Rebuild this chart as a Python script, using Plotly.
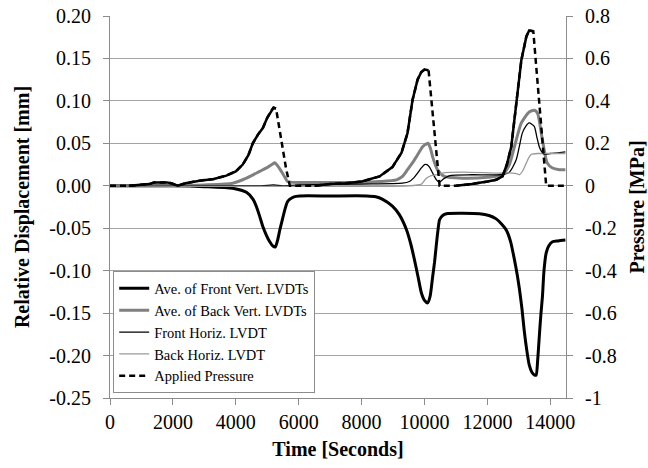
import numpy as np
import plotly.graph_objects as go

# ---- Relative displacement data (mm) ----
t_front_vert = [0, 1000, 2000, 3000, 3900, 4350, 4550, 4660, 4760, 4860, 4970, 5080, 5180, 5260,
                5330, 5400, 5480, 5560, 5640, 5710, 5850, 6030, 7000, 8160, 8450, 8670, 8980, 9200,
                9430, 9560, 9680, 9800, 9900, 10000, 10100, 10180, 10260, 10320, 10370, 10430, 10480,
                10580, 10700, 11750, 12050, 12280, 12450, 12600, 12740, 12860, 12950, 13020, 13100,
                13170, 13250, 13330, 13420, 13500, 13550, 13600, 13650, 13700, 13750, 13800, 13870,
                13950, 14070, 14250, 14480]
front_vert = [0.000, 0.000, 0.000, -0.001, -0.003, -0.008, -0.016, -0.025, -0.036, -0.048, -0.058,
              -0.066, -0.071, -0.072, -0.064, -0.052, -0.040, -0.028, -0.019, -0.016, -0.013, -0.012,
              -0.012, -0.012, -0.013, -0.016, -0.024, -0.034, -0.052, -0.068, -0.087, -0.108, -0.126,
              -0.135, -0.138, -0.130, -0.107, -0.090, -0.072, -0.052, -0.040, -0.035, -0.033, -0.033,
              -0.035, -0.039, -0.045, -0.052, -0.066, -0.087, -0.105, -0.122, -0.145, -0.170, -0.193,
              -0.211, -0.220, -0.223, -0.223, -0.205, -0.178, -0.152, -0.131, -0.100, -0.079, -0.071,
              -0.066, -0.065, -0.064]

t_back_vert = [0, 2000, 3000, 3900, 4340, 4760, 5020, 5150, 5240, 5320, 5450, 5560, 5650, 5800, 7000,
               8000, 8570, 9110, 9300, 9460, 9600, 9740, 9940, 10050, 10120, 10190, 10260, 10410,
               10630, 11200, 12000, 12480, 12700, 12860, 13080, 13330, 13500, 13600, 13750, 13900,
               14070, 14290, 14480]
back_vert = [0.000, 0.000, 0.001, 0.003, 0.009, 0.017, 0.022, 0.025, 0.027, 0.024, 0.017, 0.010,
             0.005, 0.004, 0.004, 0.004, 0.005, 0.007, 0.011, 0.019, 0.026, 0.034, 0.046, 0.049,
             0.050, 0.044, 0.034, 0.019, 0.011, 0.009, 0.010, 0.013, 0.025, 0.046, 0.074, 0.087,
             0.089, 0.085, 0.054, 0.027, 0.021, 0.019, 0.019]

t_front_horiz = [0, 4800, 5200, 5500, 6000, 8000, 9300, 9520, 9650, 9780, 9900, 10000, 10080, 10160,
                 10260, 10380, 10480, 10600, 10800, 11500, 12400, 12700, 12920, 13020, 13110, 13220,
                 13330, 13490, 13570, 13650, 13730, 13810, 14000, 14290, 14480]
front_horiz = [0.000, 0.000, 0.001, 0.000, 0.001, 0.002, 0.003, 0.005, 0.009, 0.015, 0.021, 0.025,
               0.025, 0.022, 0.015, 0.007, 0.004, 0.008, 0.012, 0.013, 0.013, 0.016, 0.031, 0.047,
               0.062, 0.070, 0.074, 0.070, 0.058, 0.046, 0.040, 0.037, 0.038, 0.039, 0.040]

t_back_horiz = [0, 9500, 9900, 10060, 10220, 10380, 10570, 11200, 12280, 12790, 12950, 13020, 13130,
                13240, 13330, 13400, 13600, 13750, 14200, 14480]
back_horiz = [0.000, 0.000, 0.002, 0.009, 0.012, 0.013, 0.015, 0.016, 0.015, 0.015, 0.014, 0.013,
              0.018, 0.027, 0.034, 0.037, 0.038, 0.038, 0.038, 0.038]

# ---- Applied pressure (MPa) ----
t_pressure = [0, 600, 1250, 1400, 1800, 1950, 2150, 2400, 2850, 3300, 3700, 4000, 4220, 4400, 4540,
              4700, 4860, 5000, 5140, 5200, 5280, 5450, 5600, 5720, 6500, 7000, 7500, 8000, 8570,
              8980, 9270, 9460, 9620, 9780, 9900, 10000, 10130, 10300, 10480, 11000, 11500, 12000,
              12280, 12480, 12620, 12760, 12920, 13080, 13240, 13330, 13460, 13650, 13870, 14480]
pressure = [0.000, 0.000, 0.008, 0.016, 0.016, 0.012, 0.000, 0.012, 0.024, 0.032, 0.048, 0.068,
            0.100, 0.144, 0.200, 0.240, 0.272, 0.320, 0.356, 0.368, 0.364, 0.220, 0.080, 0.000,
            0.000, 0.008, 0.012, 0.020, 0.044, 0.088, 0.156, 0.248, 0.404, 0.500, 0.536, 0.548,
            0.544, 0.280, 0.000, 0.000, 0.008, 0.020, 0.028, 0.044, 0.100, 0.184, 0.404, 0.592,
            0.704, 0.732, 0.728, 0.400, 0.000, 0.000]

# ---- Axis ticks ----
x_ticks = [0, 2000, 4000, 6000, 8000, 10000, 12000, 14000]
x_tick_labels = ["0", "2000", "4000", "6000", "8000", "10000", "12000", "14000"]
y_ticks = [-0.25, -0.20, -0.15, -0.10, -0.05, 0.00, 0.05, 0.10, 0.15, 0.20]
y_tick_labels = ["-0.25", "-0.20", "-0.15", "-0.10", "-0.05", "0.00", "0.05", "0.10", "0.15", "0.20"]
y2_ticks = [-1.0, -0.8, -0.6, -0.4, -0.2, 0.0, 0.2, 0.4, 0.6, 0.8]
y2_tick_labels = ["-1", "-0.8", "-0.6", "-0.4", "-0.2", "0", "0.2", "0.4", "0.6", "0.8"]

FONT = "'Liberation Serif', 'Times New Roman', Times, serif"
AXIS_GRAY = "#8c8c8c"
GRID_GRAY = "#a3a3a3"

fig = go.Figure()

fig.add_trace(go.Scatter(x=t_front_vert, y=front_vert, mode="lines",
                         name="Ave. of Front Vert. LVDTs",
                         line=dict(color="black", width=3, shape="spline", smoothing=0.6)))
fig.add_trace(go.Scatter(x=t_back_vert, y=back_vert, mode="lines",
                         name="Ave. of Back Vert. LVDTs",
                         line=dict(color="#808080", width=3, shape="spline", smoothing=0.6)))
fig.add_trace(go.Scatter(x=t_front_horiz, y=front_horiz, mode="lines",
                         name="Front Horiz. LVDT",
                         line=dict(color="black", width=1.3, shape="spline", smoothing=0.6)))
fig.add_trace(go.Scatter(x=t_back_horiz, y=back_horiz, mode="lines",
                         name="Back Horiz. LVDT",
                         line=dict(color="#9a9a9a", width=1.3, shape="spline", smoothing=0.6)))

# Pressure: dashed overall, solid along the loading ramps
p = np.array(pressure)
tp = np.array(t_pressure)
fig.add_trace(go.Scatter(x=tp, y=p, mode="lines", name="Applied Pressure", yaxis="y2",
                         line=dict(color="black", width=2.5, dash="6px,4px")))
loading = (np.diff(p) > -0.01) & (np.maximum(p[:-1], p[1:]) > 0.005)
p_solid = np.full(p.shape, np.nan)
for i in np.nonzero(loading)[0]:
    p_solid[i] = p[i]
    p_solid[i + 1] = p[i + 1]
fig.add_trace(go.Scatter(x=tp, y=p_solid, mode="lines", yaxis="y2", showlegend=False,
                         connectgaps=False, hoverinfo="skip",
                         line=dict(color="black", width=2.5)))

tick_font = dict(family=FONT, size=20, color="black")
title_font = dict(family=FONT, size=20, color="black", weight="bold")

fig.update_layout(
    width=648, height=468,
    margin=dict(l=110, r=82, t=16, b=70),
    paper_bgcolor="white", plot_bgcolor="white",
    font=dict(family=FONT, color="black"),
    showlegend=True,
    legend=dict(x=0.007, y=0.012, xanchor="left", yanchor="bottom",
                bgcolor="white", bordercolor=AXIS_GRAY, borderwidth=1,
                font=dict(family=FONT, size=14.5, color="black"),
                tracegroupgap=0, itemwidth=30),
    xaxis=dict(range=[0, 14500], tickvals=x_ticks, ticktext=x_tick_labels,
               showgrid=False, zeroline=False, showline=True, linecolor=AXIS_GRAY,
               linewidth=1, ticks="outside", ticklen=6, tickcolor=AXIS_GRAY,
               tickfont=tick_font, automargin=False,
               title=dict(text="Time [Seconds]", font=title_font, standoff=9)),
    yaxis=dict(range=[-0.25, 0.2], tickvals=y_ticks, ticktext=y_tick_labels,
               showgrid=True, gridcolor=GRID_GRAY, gridwidth=1, zeroline=False,
               showline=True, linecolor=AXIS_GRAY, linewidth=1,
               ticks="outside", ticklen=6, tickcolor=AXIS_GRAY, tickfont=tick_font,
               ticklabelstandoff=8, automargin=False,
               title=dict(text="Relative Displacement [mm]", font=title_font, standoff=14)),
    yaxis2=dict(range=[-1.0, 0.8], tickvals=y2_ticks, ticktext=y2_tick_labels,
                overlaying="y", side="right", showgrid=False, zeroline=False,
                showline=True, linecolor=AXIS_GRAY, linewidth=1,
                ticks="outside", ticklen=6, tickcolor=AXIS_GRAY, tickfont=tick_font,
                ticklabelstandoff=8, automargin=False,
                title=dict(text="Pressure [MPa]", font=title_font, standoff=24)),
)

fig.write_html("out.html")
